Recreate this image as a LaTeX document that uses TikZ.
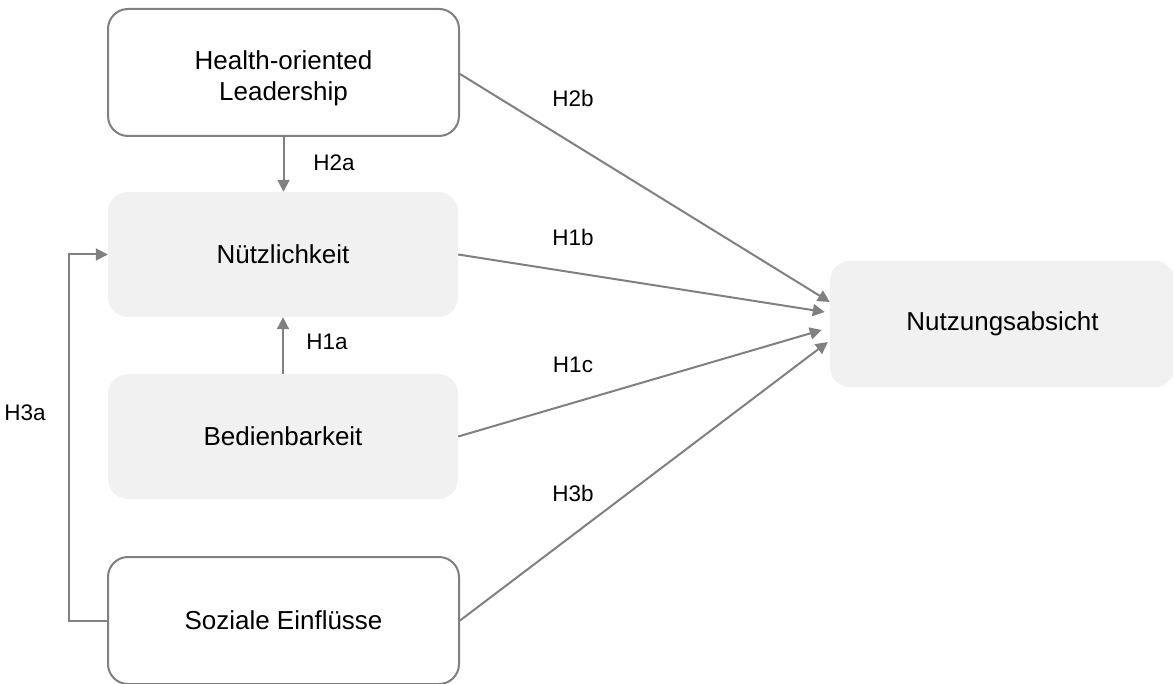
\documentclass[tikz,border=0pt]{standalone}
\usepackage{fontspec}
\setmainfont{Liberation Sans}
\usetikzlibrary{arrows.meta,calc}
\definecolor{linegray}{HTML}{808080}
\definecolor{boxfill}{HTML}{F1F1F1}
\begin{document}
\begin{tikzpicture}[x=1pt,y=-1pt,
  boxtext/.style={font=\fontsize{26}{31}\selectfont, align=center, inner sep=0pt},
  outlinebox/.style={boxtext, draw=linegray, line width=2pt, rounded corners=20pt, minimum width=351pt, minimum height=127pt},
  fillbox/.style={boxtext, fill=boxfill, rounded corners=20pt, minimum width=350pt, minimum height=125pt},
  conn/.style={draw=linegray, line width=2pt, -{Triangle[length=12pt,width=12pt]}},
  lbl/.style={font=\fontsize{22.5}{26}\selectfont, inner sep=0pt}]
\useasboundingbox (0,0) rectangle (1173,684);
\node[outlinebox] (hol) at (283.5,72.5) {};
\node[boxtext] (holtext) at (283.5,78) {Health-oriented\\Leadership};
\node[fillbox] (nue) at (283,254.5) {Nützlichkeit};
\node[fillbox] (bed) at (283,436.5) {Bedienbarkeit};
\node[outlinebox] (soz) at (283.5,620.5) {Soziale Einflüsse};
\node[fillbox, minimum width=345pt, minimum height=126pt] (na) at (1002.5,324) {Nutzungsabsicht};

\coordinate (t2b) at ($(na.west)+(0,-22)$);
\coordinate (t1b) at ($(na.west)+(-5,-12)$);
\coordinate (t1c) at ($(na.west)+(-8,6)$);
\coordinate (t3b) at ($(na.west)+(-2,18)$);
\coordinate (h3acorner) at (69,0);

\draw[conn] (hol.south) -- (hol.south |- nue.north);
\draw[conn] (bed.north) -- (nue.south);
\draw[conn] (soz.west) -- (soz.west -| h3acorner) -- (nue.west -| h3acorner) -- (nue.west);
\draw[conn] ($(hol.east)+(0,1.5)$) -- (t2b);
\draw[conn] (nue.east) -- (t1b);
\draw[conn] (bed.east) -- (t1c);
\draw[conn] (soz.east) -- (t3b);

\node[lbl] (l2a) at (334,163) {H2a};
\node[lbl] (l1a) at (327,342) {H1a};
\node[lbl] (l3a) at (25,413) {H3a};
\node[lbl] (l2b) at (573,98) {H2b};
\node[lbl] (l1b) at (573,237) {H1b};
\node[lbl] (l1c) at (573,365) {H1c};
\node[lbl] (l3b) at (573,493) {H3b};
\end{tikzpicture}
\end{document}
